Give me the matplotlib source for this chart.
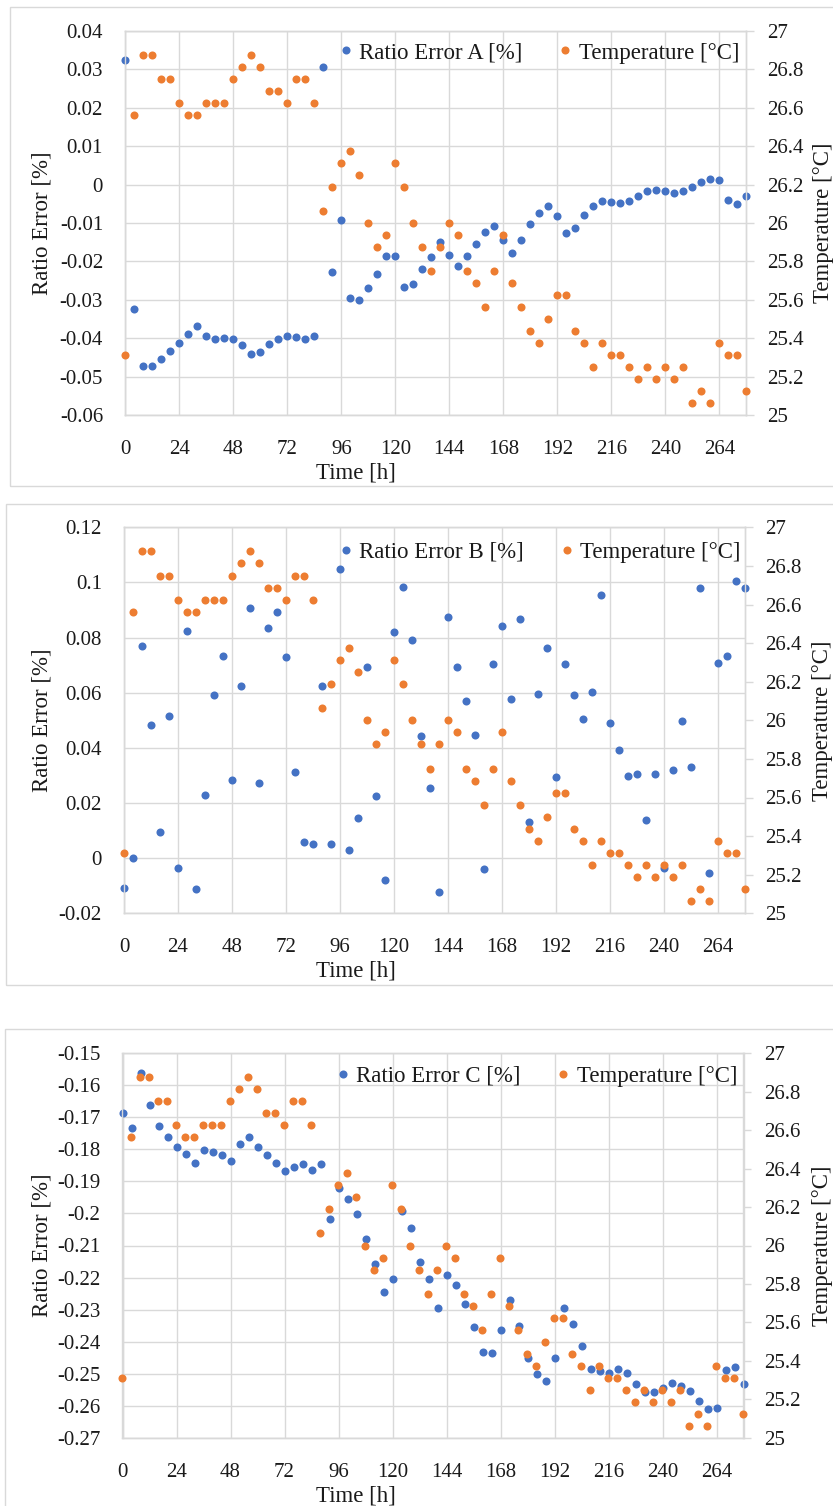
import matplotlib
matplotlib.use("Agg")
import matplotlib.pyplot as plt
from matplotlib.ticker import MultipleLocator, FuncFormatter
from matplotlib.lines import Line2D
from matplotlib.patches import Rectangle

plt.rcParams['font.family'] = ['Liberation Serif', 'DejaVu Serif']

W, H = 833, 1506

# time stamps (h), one sample every 4 h
hours = [0, 4, 8, 12, 16, 20, 24, 28, 32, 36, 40, 44, 48, 52, 56, 60, 64, 68,
         72, 76, 80, 84, 88, 92, 96, 100, 104, 108, 112, 116, 120, 124, 128,
         132, 136, 140, 144, 148, 152, 156, 160, 164, 168, 172, 176, 180, 184,
         188, 192, 196, 200, 204, 208, 212, 216, 220, 224, 228, 232, 236, 240,
         244, 248, 252, 256, 260, 264, 268, 272, 276]

temperature = [25.3125, 26.5625, 26.875, 26.875, 26.75, 26.75, 26.625, 26.5625, 26.5625, 26.625,
               26.625, 26.625, 26.75, 26.8125, 26.875, 26.8125, 26.6875, 26.6875, 26.625, 26.75,
               26.75, 26.625, 26.0625, 26.1875, 26.3125, 26.375, 26.25, 26.0, 25.875, 25.9375,
               26.3125, 26.1875, 26.0, 25.875, 25.75, 25.875, 26.0, 25.9375, 25.75, 25.6875,
               25.5625, 25.75, 25.9375, 25.6875, 25.5625, 25.4375, 25.375, 25.5, 25.625, 25.625,
               25.4375, 25.375, 25.25, 25.375, 25.3125, 25.3125, 25.25, 25.1875, 25.25, 25.1875,
               25.25, 25.1875, 25.25, 25.0625, 25.125, 25.0625, 25.375, 25.3125, 25.3125, 25.125]

ratio_err_a = [0.0324, -0.0325, -0.0472, -0.0472, -0.0454, -0.0433, -0.0412, -0.0388, -0.0367, -0.0393,
               -0.0403, -0.0400, -0.0401, -0.0418, -0.0440, -0.0435, -0.0415, -0.0403, -0.0393, -0.0398,
               -0.0403, -0.0393, 0.0305, -0.0228, -0.0091, -0.0295, -0.0301, -0.0268, -0.0232, -0.0185,
               -0.0185, -0.0266, -0.0258, -0.0219, -0.0188, -0.0150, -0.0183, -0.0212, -0.0186, -0.0154,
               -0.0124, -0.0108, -0.0143, -0.0178, -0.0143, -0.0102, -0.0073, -0.0056, -0.0082, -0.0127,
               -0.0113, -0.0080, -0.0055, -0.0044, -0.0046, -0.0049, -0.0042, -0.0030, -0.0017, -0.0014,
               -0.0017, -0.0021, -0.0017, -0.0005, 0.0008, 0.0014, 0.0012, -0.0041, -0.0050, -0.0029]

ratio_err_b = [-0.0110, 0.0000, 0.0769, 0.0482, 0.0094, 0.0514, -0.0035, 0.0825, -0.0112, 0.0230,
               0.0593, 0.0734, 0.0282, 0.0623, 0.0907, 0.0271, 0.0836, 0.0891, 0.0728, 0.0314,
               0.0059, 0.0053, 0.0623, 0.0051, 0.1047, 0.0028, 0.0145, 0.0695, 0.0225, -0.0079,
               0.0822, 0.0983, 0.0791, 0.0443, 0.0256, -0.0121, 0.0873, 0.0694, 0.0570, 0.0445,
               -0.0039, 0.0705, 0.0843, 0.0579, 0.0869, 0.0132, 0.0596, 0.0761, 0.0296, 0.0703,
               0.0590, 0.0503, 0.0601, 0.0953, 0.0492, 0.0394, 0.0297, 0.0306, 0.0137, 0.0306,
               -0.0035, 0.0320, 0.0498, 0.0329, 0.0981, -0.0053, 0.0707, 0.0732, 0.1007, 0.0981]

ratio_err_c = [-0.1685, -0.1733, -0.1562, -0.1662, -0.1726, -0.1760, -0.1794, -0.1813, -0.1842, -0.1802,
               -0.1809, -0.1817, -0.1836, -0.1783, -0.1760, -0.1792, -0.1817, -0.1844, -0.1867, -0.1856,
               -0.1847, -0.1865, -0.1847, -0.2018, -0.1921, -0.1955, -0.2002, -0.2079, -0.2158, -0.2246,
               -0.2204, -0.1991, -0.2045, -0.2152, -0.2204, -0.2294, -0.2192, -0.2223, -0.2284, -0.2353,
               -0.2433, -0.2437, -0.2363, -0.2269, -0.2350, -0.2452, -0.2501, -0.2522, -0.2452, -0.2296,
               -0.2346, -0.2414, -0.2485, -0.2492, -0.2499, -0.2485, -0.2499, -0.2533, -0.2557, -0.2557,
               -0.2544, -0.2529, -0.2540, -0.2554, -0.2584, -0.2611, -0.2606, -0.2488, -0.2478, -0.2533]

time_ticks = [0, 24, 48, 72, 96, 120, 144, 168, 192, 216, 240, 264]

BLUE = '#4472C4'
ORANGE = '#ED7D31'
GRID = '#D9D9D9'
TXT = '#1A1A1A'

# (name, values, y-limits, y-step, plot box px (left, right, top, bottom), frame px, legend px)
panels = [
    ('A', ratio_err_a, (-0.06, 0.04), 0.01, (125.3, 746.3, 31, 415), (10, 7, 486), (340, 53)),
    ('B', ratio_err_b, (-0.02, 0.12), 0.02, (124, 745, 527.3, 913.3), (6, 504, 985), (340, 552)),
    ('C', ratio_err_c, (-0.27, -0.15), 0.01, (122.5, 743.5, 1053.3, 1437.7), (5, 1029, 1530), (337, 1076)),
]


def fmt(v, pos):
    s = f'{round(v, 6):g}'
    return '0' if s in ('0', '-0') else s


fig = plt.figure(figsize=(W / 100, H / 100), dpi=100)

for name, vals, ylim, ystep, (l, r, t, b), (fx, fy0, fy1), (lx, ly) in panels:
    fig.add_artist(Rectangle((fx / W, 1 - fy1 / H), (W + 20 - fx) / W, (fy1 - fy0) / H,
                             transform=fig.transFigure, fill=False, ec=GRID, lw=1.0))

    ax = fig.add_axes([l / W, 1 - b / H, (r - l) / W, (b - t) / H])
    ax2 = ax.twinx()

    ax.plot(hours, vals, ls='none', marker='o', ms=5.8, mew=0, color=BLUE, clip_on=False, zorder=3)
    ax2.plot(hours, temperature, ls='none', marker='o', ms=5.8, mew=0, color=ORANGE, clip_on=False, zorder=3)

    ax.set_xlim(0, 276)
    ax.set_xticks(time_ticks)
    ax.set_ylim(*ylim)
    ax.yaxis.set_major_locator(MultipleLocator(ystep))
    ax.yaxis.set_major_formatter(FuncFormatter(fmt))
    ax.grid(True, color=GRID, lw=1.0)
    ax.set_axisbelow(True)
    ax.tick_params(axis='both', length=0, labelsize=15, labelcolor=TXT)
    ax.tick_params(axis='y', pad=16)
    ax.tick_params(axis='x', pad=18)

    ax2.set_ylim(25, 27)
    ax2.yaxis.set_major_locator(MultipleLocator(0.2))
    ax2.yaxis.set_major_formatter(FuncFormatter(fmt))
    ax2.tick_params(axis='y', direction='out', length=5.8, width=1.0, color=GRID,
                    pad=9, labelsize=15, labelcolor=TXT)

    for a in (ax, ax2):
        for sp in a.spines.values():
            sp.set_color(GRID)
            sp.set_linewidth(1.0)

    pw, ph = r - l, b - t
    ax.set_ylabel('Ratio Error [%]', fontsize=16.5, color=TXT, va='center')
    ax.yaxis.set_label_coords((42 - l) / pw, 0.5)
    ax2.set_ylabel('Temperature [°C]', fontsize=16.5, color=TXT, va='center')
    ax2.yaxis.set_label_coords((823 - l) / pw, 0.5)
    ax.set_xlabel('Time [h]', fontsize=16.5, color=TXT, va='center')
    ax.xaxis.set_label_coords((356 - l) / pw, -(58 / ph))

    handles = [Line2D([], [], ls='none', marker='o', ms=5.8, mew=0, color=BLUE,
                      label=f'Ratio Error {name} [%]'),
               Line2D([], [], ls='none', marker='o', ms=5.8, mew=0, color=ORANGE,
                      label='Temperature [°C]')]
    leg = ax2.legend(handles=handles, loc='center left', bbox_to_anchor=(lx / W, 1 - ly / H),
                     bbox_transform=fig.transFigure, ncol=2, frameon=False, fontsize=16.5,
                     handlelength=0.5, handletextpad=0.35, columnspacing=1.6,
                     borderpad=0, borderaxespad=0)
    for txt in leg.get_texts():
        txt.set_color(TXT)

fig.savefig('out.png', dpi=100, facecolor='white')
